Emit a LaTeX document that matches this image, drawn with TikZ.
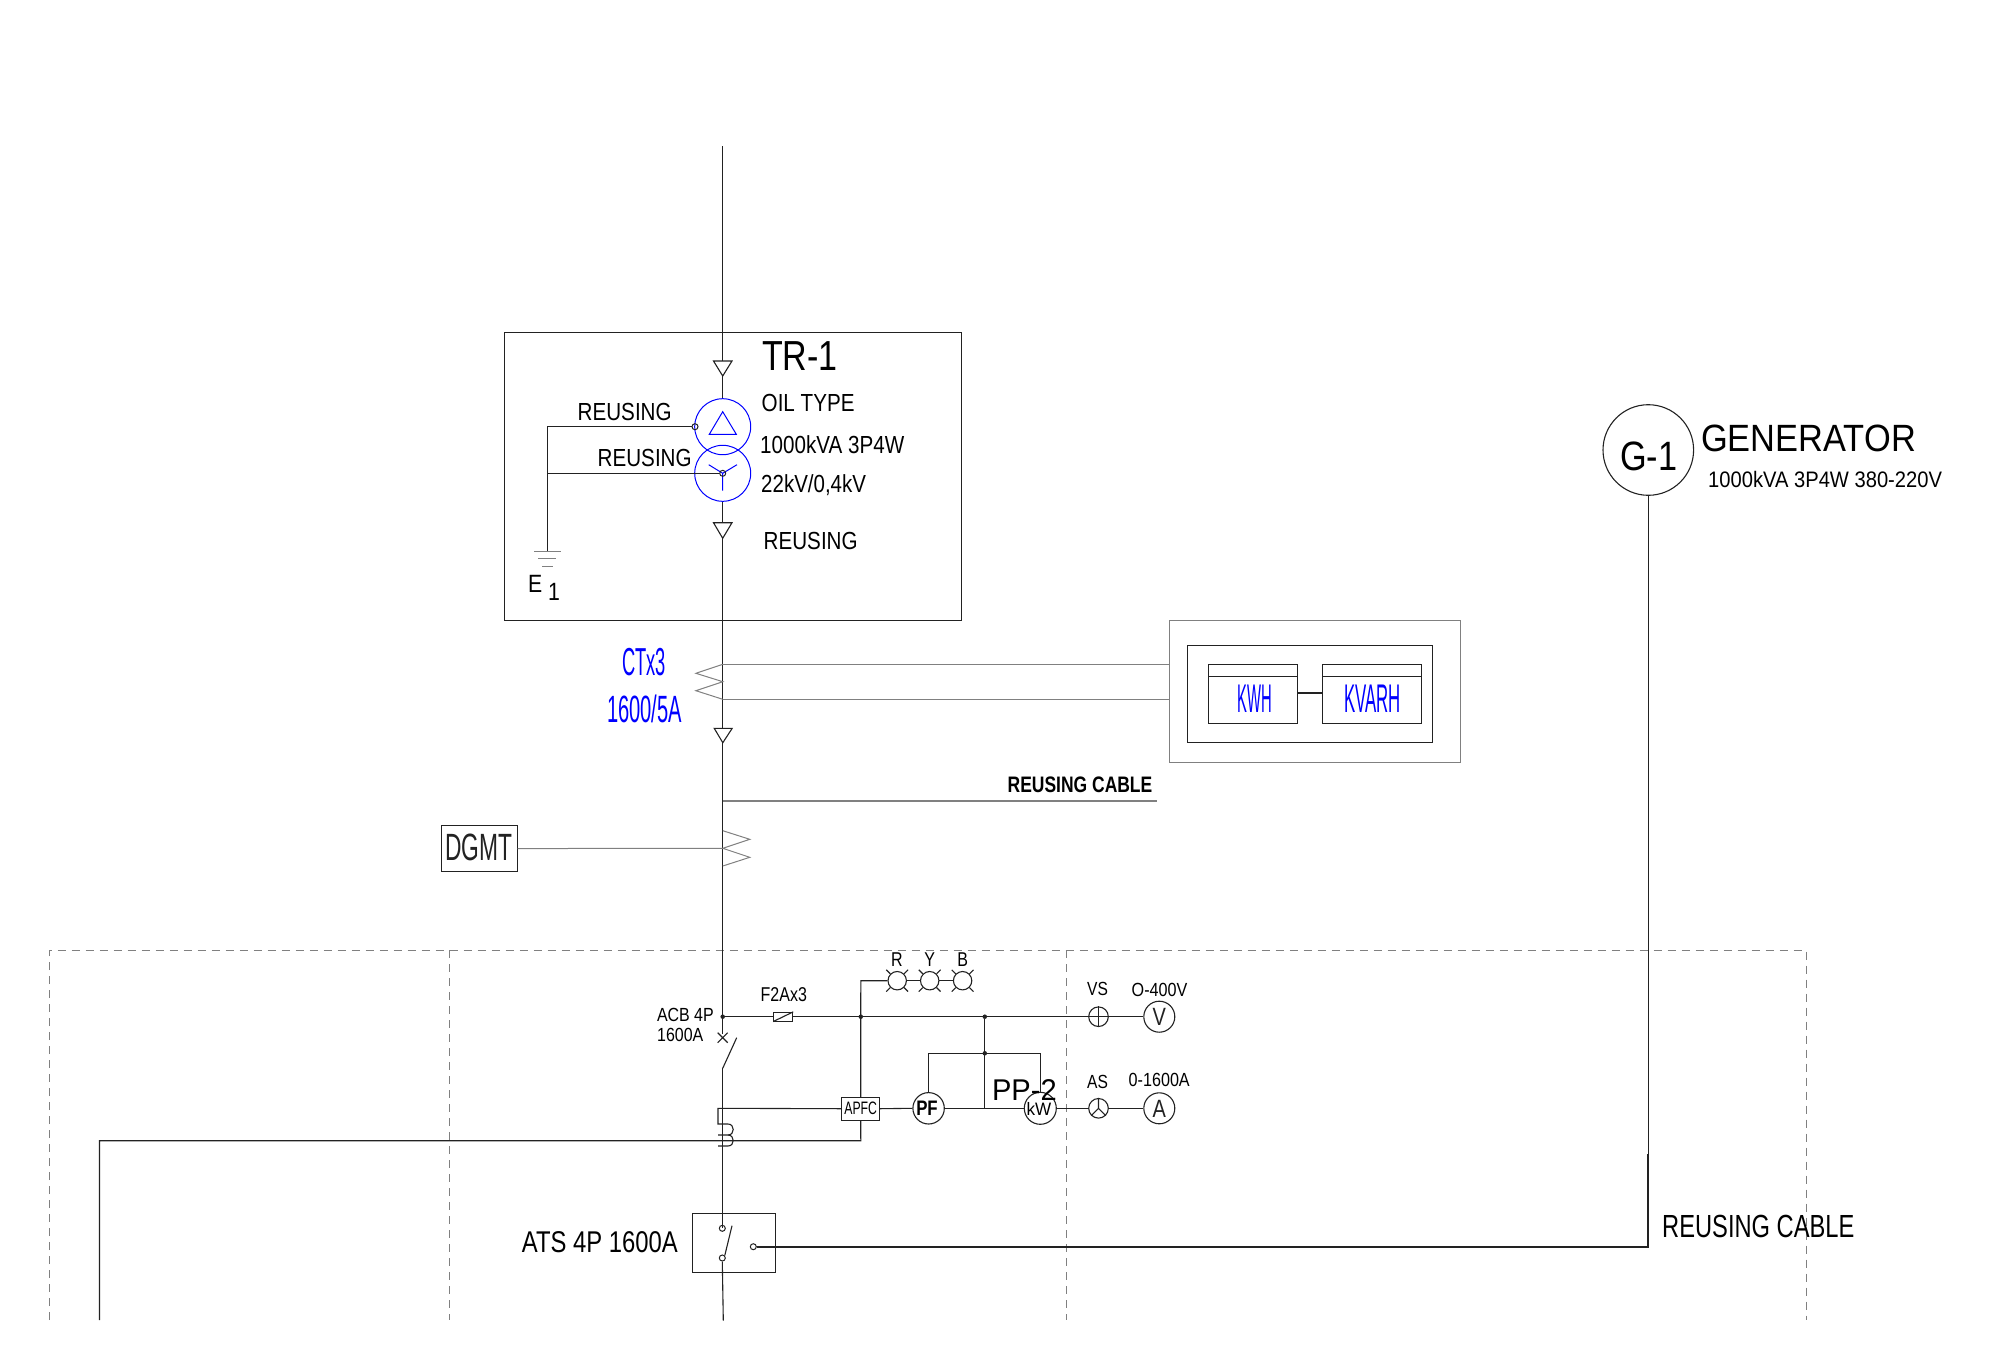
\documentclass[tikz,border=0pt]{standalone}
\usepackage{graphicx}
\usepackage{fontspec}
\setmainfont{Liberation Sans}
\newcommand\tx[3]{\scalebox{#2}[1]{\fontsize{#1}{#1}\selectfont #3}}
\definecolor{ln}{HTML}{222222}
\definecolor{gr}{HTML}{808080}
\definecolor{bl}{HTML}{0000FF}
\tikzset{
  lbl/.style={inner sep=0pt,anchor=base west,text=black},
  clbl/.style={inner sep=0pt,anchor=base,text=black},
  wire/.style={draw=ln,line width=1.1pt},
  hvy/.style={draw=ln,line width=1.8pt},
  grw/.style={draw=gr,line width=1pt},
  bluew/.style={draw=bl,line width=1pt},
  dash line/.style={draw=gr,line width=1pt,dash pattern=on 8pt off 6pt},
  ring/.style={circle,draw=ln,line width=1.1pt,inner sep=0pt,fill=none},
  dotn/.style={circle,fill=ln,inner sep=0pt,minimum size=4.5pt},
  term/.style={circle,draw=ln,line width=1pt,inner sep=0pt,minimum size=6pt},
  boxn/.style={rectangle,draw=ln,line width=1.1pt,inner sep=0pt,anchor=north west},
}
\begin{document}
\begin{tikzpicture}[x=1pt,y=-1pt]
\useasboundingbox (0,0) rectangle (2000,1360);
% dashed frame
\draw[dash line] (49.7,1320) -- (49.7,950) -- (1806,950) -- (1806,1320);
\draw[dash line] (449,950) -- (449,1320);
\draw[dash line] (1066.7,950) -- (1066.7,1320);
% transformer box
\node[boxn,minimum width=457pt,minimum height=288pt] (trbox) at (504,332) {};
\node[circle,draw=bl,line width=1pt,inner sep=0pt,minimum size=56pt] (hv) at (722.7,426.7) {};
\node[circle,draw=bl,line width=1pt,inner sep=0pt,minimum size=56pt] (lv) at (722.7,473.3) {};
\coordinate (top) at (722.7,146);
\draw[wire] (top) -- (hv.north);
\draw[wire] (lv.south) -- (722.7,1034);
\draw[wire,fill=white] (713.5,361) -- (732,361) -- (722.7,376) -- cycle;
\draw[wire,fill=white] (713.5,522.7) -- (732,522.7) -- (722.7,538.3) -- cycle;
\draw[bluew] (722.7,411.7) -- (709.3,434.3) -- (736.3,434.3) -- cycle;
\draw[bluew] (722.7,473.3) -- (708.7,464.7) (722.7,473.3) -- (737,464.7) (722.7,473.3) -- (722.7,490.7);
\node[term] (hvn) at (695,426.7) {};
\node[term] (lvn) at (722.7,473.3) {};
\coordinate (gnd) at (547.3,551);
\draw[wire] (hvn.west) -- (547.3,426.7) -- (gnd);
\draw[wire] (547.3,473.3) -- (lvn.west);
\draw[grw] (534,551) -- (561,551);
\draw[grw] (538.3,558.3) -- (556,558.3) (542.3,566) -- (552.7,566);
\node[lbl] (e) at (528,592.7) {\tx{25}{.85}{E}};
\node[lbl] (e1) at (548,600.7) {\tx{25}{.85}{1}};
\node[lbl] (tr) at (762,370) {\tx{42}{.81}{TR-1}};
\node[lbl] (oil) at (761.5,411.7) {\tx{24.7}{.835}{OIL TYPE}};
\node[lbl] (kva) at (760,453) {\tx{24.7}{.835}{1000kVA 3P4W}};
\node[lbl] (kv) at (761,492.7) {\tx{24.7}{.83}{22kV/0,4kV}};
\node[lbl] (r3) at (763.5,549) {\tx{24.7}{.835}{REUSING}};
\node[lbl] (r1) at (577.5,420.7) {\tx{24.7}{.835}{REUSING}};
\node[lbl] (r2) at (597.5,466.7) {\tx{24.7}{.835}{REUSING}};
% CT
\draw[grw] (722.8,664.3) -- (695.9,673.3) -- (722.8,681.7) -- (695.9,690.7) -- (722.8,699.3);
\node[boxn,draw=gr,minimum width=291pt,minimum height=142pt] (meter) at (1169,620.3) {};
\node[boxn,minimum width=245.1pt,minimum height=97.6pt] (mbox) at (1187,644.7) {};
\node[boxn,minimum width=89pt,minimum height=58.4pt] (kwh) at (1208,664.3) {};
\node[boxn,minimum width=99pt,minimum height=58.4pt] (kvarh) at (1322,664.3) {};
\draw[wire] (1208,676.7) -- (1297,676.7);
\draw[wire] (1322,676.7) -- (1421,676.7);
\draw[wire] (kwh.east |- 0,693) -- (kvarh.west |- 0,693);
\draw[grw] (722.8,664.3) -- (meter.west |- 0,664.3);
\draw[grw] (722.8,699.3) -- (meter.west |- 0,699.3);
\node[clbl,text=bl] (kwht) at (1255,712.7) {\tx{40}{.37}{KWH}};
\node[clbl,text=bl] (kvart) at (1372.7,712.7) {\tx{40}{.42}{KVARH}};
\node[lbl,text=bl] (ct1) at (622,675) {\tx{39}{.47}{CTx3}};
\node[lbl,text=bl] (ct2) at (607,722) {\tx{38}{.53}{1600/5A}};
\draw[wire,fill=white] (714.2,728.3) -- (732.2,728.3) -- (722.8,742.7) -- cycle;
\node[lbl] (rc1) at (1007.5,792.7) {\tx{22.4}{.78}{\bfseries REUSING CABLE}};
\coordinate (rcend) at (1156.8,801);
\draw[draw=gr,line width=1.5pt] (722.8,801) -- (rcend);
% DGMT
\draw[grw] (722.8,830.7) -- (749.8,839.3) -- (722.8,848.3) -- (749.8,857.3) -- (722.8,866);
\node[boxn,minimum width=75.3pt,minimum height=46pt] (dgmt) at (441.3,825) {};
\node[clbl,text=ln] (dgmtt) at (479,860) {\tx{38}{.6}{DGMT}};
\draw[grw] (dgmt.east) -- (722.8,848.3);
% ACB
\node[dotn] (d0) at (722.7,1016.7) {};
\node[dotn] (d1) at (860.8,1016.7) {};
\node[dotn] (d2) at (984.8,1016.7) {};
\node[dotn] (d3) at (984.8,1053.3) {};
\draw[wire] (717.7,1032.7) -- (727.7,1042.7) (727.7,1032.7) -- (717.7,1042.7);
\draw[wire] (722.7,1068.3) -- (736.7,1037.7);
\coordinate (ats1) at (722.7,1228.3);
\draw[wire] (722.7,1068.3) -- (ats1);
\node[lbl] (acb1) at (656.8,1021.7) {\tx{19}{.84}{ACB 4P}};
\node[lbl] (acb2) at (657,1041.7) {\tx{19}{.84}{1600A}};
% fuse and voltage line
\node[ring,minimum size=19.6pt] (vs) at (1098.5,1016.7) {};
\node[ring,minimum size=31pt] (vm) at (1159.3,1016.7) {};
\draw[wire] (d0) -- (vs.west);
\draw[wire] (vs.east) -- (vm.west);
\draw[wire] (vs.north) -- (vs.south);
\draw[wire] (vs.west) -- (vs.east);
\node[rectangle,draw=ln,line width=1pt,fill=white,minimum width=19pt,minimum height=8.7pt,inner sep=0pt] (fuse) at (783.2,1016.7) {};
\draw[wire] (fuse.south west) -- (fuse.north east);
\node[lbl] (fu) at (760.5,1001) {\tx{20}{.8}{F2Ax3}};
\node[clbl,text=ln] (vt) at (1159.3,1025.7) {\tx{25}{.8}{V}};
\node[lbl] (vst) at (1087,995) {\tx{19}{.82}{VS}};
\node[lbl] (vr) at (1131.5,996.7) {\tx{19}{.85}{O-400V}};
% lamps
\foreach \n/\x in {lr/897.2,ly/929.7,lb/962.6}{
  \node[ring,minimum size=18.4pt] (\n) at (\x,980.7) {};
  \draw[wire] (\n.north east) -- ++(4,-4) (\n.north west) -- ++(-4,-4) (\n.south east) -- ++(4,4) (\n.south west) -- ++(-4,4);
}
\draw[wire] (lr.east) -- (ly.west) (ly.east) -- (lb.west);
\node[clbl] (tr0) at (897,966) {\tx{20}{.8}{R}};
\node[clbl] (ty0) at (929.7,966) {\tx{20}{.8}{Y}};
\node[clbl] (tb0) at (962.6,966) {\tx{20}{.8}{B}};
% APFC row
\node[rectangle,draw=ln,line width=1.1pt,minimum width=37.9pt,minimum height=22.7pt,inner sep=0pt] (apfc) at (860.7,1108.7) {\tx{18}{.68}{APFC}};
\draw[wire] (lr.west) -- (860.8,980.7) -- (apfc.north);
\node[ring,minimum size=31.4pt] (pf) at (928.6,1108.3) {};
\node[ring,minimum size=32pt] (kw) at (1040.3,1108.3) {};
\node[ring,minimum size=19.6pt] (as) at (1098.5,1108.3) {};
\node[ring,minimum size=31pt] (am) at (1159.3,1108.3) {};
\draw[wire] (as.center) -- (as.north) (as.center) -- (as.south west) (as.center) -- (as.south east);
\draw[wire] (apfc.east) -- (pf.west);
\draw[wire] (pf.east) -- (kw.west);
\draw[wire] (kw.east) -- (as.west);
\draw[wire] (as.east) -- (am.west);
\draw[wire] (d2) -- (984.8,1108.3);
\draw[wire] (pf.north) -- (928.6,1053.3) -- (1040.3,1053.3) -- (kw.north);
\node[clbl] (pft) at (927,1115.7) {\tx{21}{.8}{\bfseries PF}};
\node[clbl] (kwt) at (1039,1115) {\tx{18}{.95}{kW}};
\node[clbl,text=ln] (at) at (1159.3,1117.3) {\tx{25}{.8}{A}};
\node[lbl] (pp) at (991.8,1100) {\tx{30}{.97}{PP-2}};
\node[lbl] (ast) at (1087,1088.3) {\tx{19}{.82}{AS}};
\node[lbl] (ar) at (1128.5,1086.7) {\tx{19}{.85}{0-1600A}};
% current coil
\coordinate (cl) at (99.5,1320);
\draw[wire] (apfc.west) -- (718,1108.3) -- (718,1124) -- (728,1124) .. controls (735,1124) and (735,1135) .. (728,1135) -- (718,1135);
\draw[wire] (728,1135) .. controls (735,1135) and (735,1146) .. (728,1146) -- (718,1146);
\draw[wire] (apfc.south) -- (860.8,1140.7) -- (99.5,1140.7) -- (cl);
% ATS
\node[boxn,minimum width=83.3pt,minimum height=59pt] (ats) at (691.7,1213.3) {};
\node[term] (a1) at (722.3,1228.3) {};
\node[term] (a2) at (722.3,1258) {};
\node[term] (a3) at (753.3,1246.7) {};
\coordinate (abot) at (723.3,1320.7);
\draw[wire] (a2.south) -- (abot);
\draw[wire] (a2.north east) -- (732,1225.7);
\node[lbl] (atst) at (521.7,1252.5) {\tx{30}{.795}{ATS 4P 1600A}};
% generator
\node[ring,minimum size=90.6pt] (g) at (1648.3,450) {};
\node[lbl] (g1) at (1620,470) {\tx{41}{.835}{G-1}};
\node[lbl] (gen) at (1701,451.7) {\tx{38}{.905}{GENERATOR}};
\node[lbl] (gen2) at (1708,487.7) {\tx{22.4}{.9}{1000kVA 3P4W 380-220V}};
\coordinate (gc) at (1648.3,1246.7);
\draw[wire] (g.south) -- (1648.3,1154);
\draw[hvy] (1648.3,1154) -- (gc) -- (a3.east);
\node[lbl] (rc2) at (1662,1237) {\tx{32}{.74}{REUSING CABLE}};
\end{tikzpicture}
\end{document}
